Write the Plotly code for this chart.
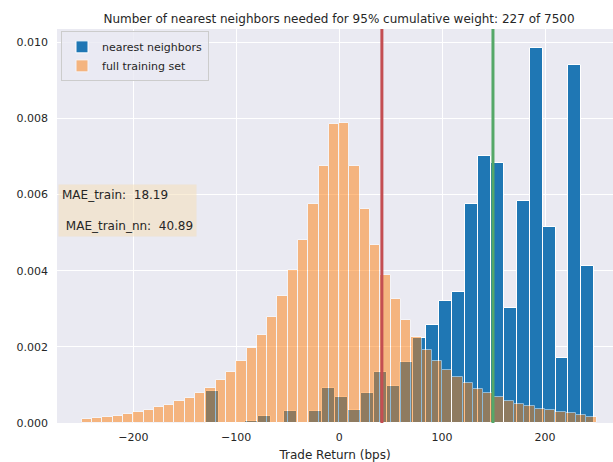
import numpy as np
import plotly.graph_objects as go

# Histogram of the nearest-neighbour trade returns (density, 30 bins)
nn_bin_edges = np.linspace(-129.5, 247.9, 31)
nn_density = [0.00083, 0.0, 0.0, 0.00005, 0.00018, 0.0, 0.00031, 0.0, 0.00031, 0.00091,
              0.00068, 0.00034, 0.00079, 0.00133, 0.00097, 0.00161, 0.00222, 0.00258, 0.00320, 0.00343,
              0.00575, 0.00702, 0.00683, 0.00301, 0.00584, 0.00985, 0.00515, 0.00170, 0.00941, 0.00412]

# Histogram of the full training set returns (density, 10 bps bins)
full_bin_edges = np.arange(-250, 251, 10)
full_density = [0.000114, 0.00014, 0.000158, 0.000184, 0.000237, 0.0003, 0.000334, 0.000413, 0.000466, 0.000571,
                0.000658, 0.0008, 0.000932, 0.00112, 0.00135, 0.00164, 0.00196, 0.00232, 0.00278, 0.00334,
                0.00403, 0.0048, 0.00575, 0.00674, 0.00785, 0.00789, 0.00676, 0.00563, 0.00467, 0.0039,
                0.00327, 0.0027, 0.00227, 0.00192, 0.00163, 0.0014, 0.0012, 0.00104, 0.0009, 0.00078,
                0.00068, 0.00058, 0.0005, 0.00044, 0.00037, 0.00033, 0.00028, 0.00025, 0.0002, 0.00016]

# Reference lines
red_line_x = 41.5
green_line_x = 149.4

mae_train = 18.19
mae_train_nn = 40.89
n_needed = 227
n_total = 7500

x_ticks = [-200, -100, 0, 100, 200]
y_ticks = [0.0, 0.002, 0.004, 0.006, 0.008, 0.010]

FONT = "DejaVu Sans"
TEXT = "#262626"


def centers_widths(edges):
    e = np.asarray(edges, dtype=float)
    return (e[:-1] + e[1:]) / 2, np.diff(e)


nn_x, nn_w = centers_widths(nn_bin_edges)
full_x, full_w = centers_widths(full_bin_edges)

fig = go.Figure()
fig.add_trace(go.Bar(
    x=nn_x, y=nn_density, width=nn_w, name="nearest neighbors",
    marker=dict(color="#1f77b4", line=dict(color="white", width=1)),
))
fig.add_trace(go.Bar(
    x=full_x, y=full_density, width=full_w, name="full training set",
    opacity=0.5,
    marker=dict(color="#ff7f0e", line=dict(color="white", width=1)),
))

for xv, col in [(red_line_x, "#C44E52"), (green_line_x, "#55A868")]:
    fig.add_shape(type="line", xref="x", yref="paper", x0=xv, x1=xv, y0=0, y1=1,
                  line=dict(color=col, width=3), layer="above")

box_text = (f"MAE_train:\u00a0\u00a0{mae_train:.2f}<br> <br>"
            f"\u00a0MAE_train_nn:\u00a0\u00a0{mae_train_nn:.2f}")
fig.add_annotation(
    text=box_text, xref="paper", yref="paper", x=0.0018, y=0.6068,
    xanchor="left", yanchor="top", align="left", showarrow=False,
    font=dict(family=FONT, size=12, color=TEXT),
    bgcolor="rgba(245,222,179,0.5)", borderpad=3,
)

fig.update_layout(
    width=613, height=462,
    margin=dict(l=57, r=0, t=29, b=39),
    paper_bgcolor="white", plot_bgcolor="#EAEAF2",
    barmode="overlay", bargap=0,
    font=dict(family=FONT, size=11, color=TEXT),
    title=dict(
        text=f"Number of nearest neighbors needed for 95% cumulative weight: {n_needed} of {n_total}",
        font=dict(family=FONT, size=12, color=TEXT),
        xref="container", x=339 / 613, xanchor="center",
        yref="container", y=1 - 19 / 462, yanchor="middle",
    ),
    legend=dict(
        x=0.0072, y=0.994, xanchor="left", yanchor="top",
        bgcolor="rgba(234,234,242,0.8)", bordercolor="#cccccc", borderwidth=1,
        font=dict(family=FONT, size=11, color=TEXT), itemwidth=30,
        tracegroupgap=0,
    ),
    xaxis=dict(
        range=[-274.1, 266.0], tickvals=x_ticks, showgrid=True, gridcolor="white", gridwidth=1,
        zeroline=False, showline=False, ticks="", ticklabelstandoff=6,
        tickfont=dict(family=FONT, size=11, color=TEXT),
        title=dict(text="Trade Return (bps)", font=dict(family=FONT, size=12, color=TEXT), standoff=7),
    ),
    yaxis=dict(
        range=[0, 0.01035], tickvals=y_ticks, tickformat=".3f", showgrid=True, gridcolor="white",
        gridwidth=1, zeroline=False, showline=False, ticks="", ticklabelstandoff=8,
        tickfont=dict(family=FONT, size=11, color=TEXT),
    ),
)

fig.write_html("out.html")
